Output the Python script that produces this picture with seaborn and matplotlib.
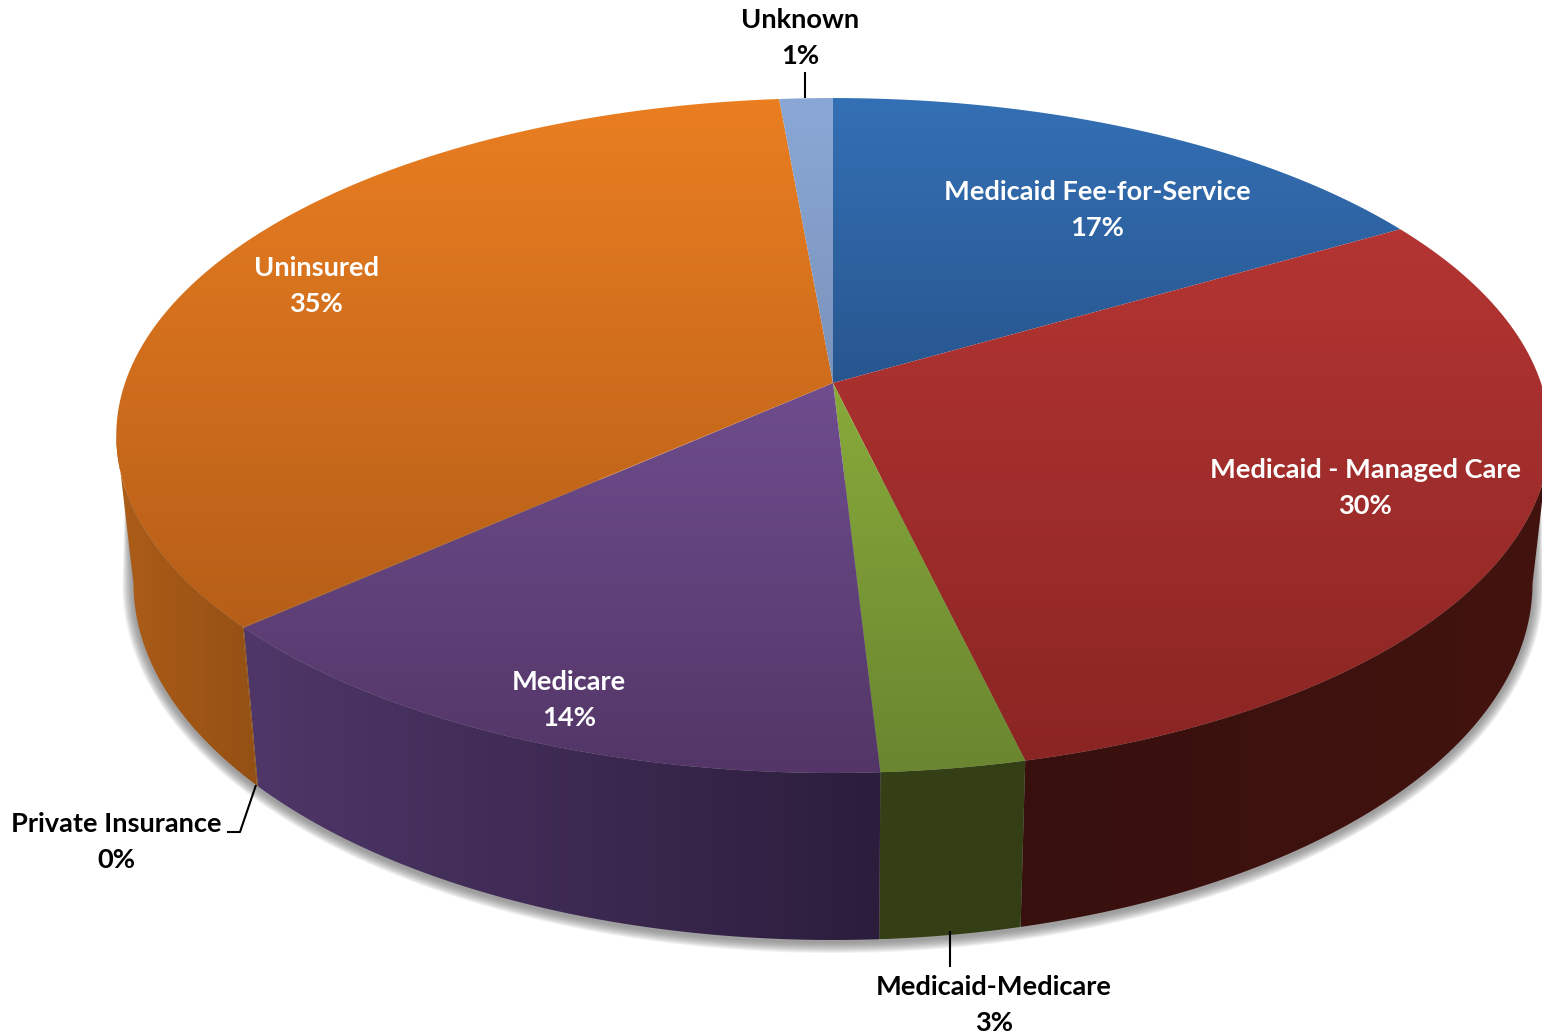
"""Perspective pie of coverage shares, drawn as shaded polygons with seaborn palettes."""

import matplotlib.pyplot as plt
import numpy as np
import seaborn as sns
from matplotlib.patches import Polygon

CATEGORIES = [
    "Medicaid Fee-for-Service",
    "Medicaid - Managed Care",
    "Medicaid-Medicare",
    "Medicare",
    "Private Insurance",
    "Uninsured",
    "Unknown",
]
# Shares; the labels show the rounded figures.
SHARES = [16.6, 29.7, 2.8, 14.3, 0.04, 35.16, 1.4]
SHARE_LABELS = ["17%", "30%", "3%", "14%", "0%", "35%", "1%"]

TOP_COLORS = [
    ("#3470b5", "#27568f"),
    ("#b43533", "#8a2523"),
    ("#88aa3a", "#6a8630"),
    ("#6f4d8e", "#533667"),
    ("#b65e18", "#b65e18"),
    ("#ea7e21", "#b65e18"),
    ("#8aa7d6", "#7a93ba"),
]
WALL_COLORS = [
    ("#1d3f69", "#1d3f69"),
    ("#37100e", "#43130f"),
    ("#354016", "#333e15"),
    ("#4f3769", "#2c1d3c"),
    ("#945014", "#945014"),
    ("#ad5d18", "#945014"),
    ("#5a6f8f", "#5a6f8f"),
]

# Label centres in pixels: (x, y of first line), white inside the pie.
LABEL_X = [1097, 1365, 994, 569, 116, 316, 800]
LABEL_Y = [192, 470, 987, 682, 824, 268, 20]
LABEL_COLORS = ["white", "white", "black", "white", "black", "white", "black"]
LINE_GAP = 36

LEADERS = [
    ([805, 805], [72, 98]),
    ([227, 240, 256], [832, 832, 785]),
    ([950, 950], [931, 967]),
]

K = 0.1556  # perspective strength
TOP_RIM = {"cx": 833, "cy": 383, "a": 708, "b": 329.3}
BOTTOM_RIM = {"cx": 833, "cy": 527.5, "a": 691, "b": 348.3}
WALL_RANGE = (99, 261)  # degrees clockwise from the back, silhouette to silhouette

sns.set_theme(style="white")
plt.rcParams["font.family"] = ["Lato", "DejaVu Sans"]


def rim_points(theta_deg, rim):
    """Project angles (clockwise from the far side) onto a rim in pixel space."""
    theta = np.radians(theta_deg)
    w = 1 + K * np.cos(theta)
    x = rim["cx"] + rim["a"] * np.sin(theta) / w
    y = rim["cy"] - rim["b"] * np.cos(theta) / w
    return np.column_stack([x, y])


def gradient_fill(ax, points, colors, vertical=True, zorder=2):
    """Fill a polygon with a two-colour gradient across its bounding box."""
    cmap = sns.blend_palette(colors, as_cmap=True)
    ramp = np.linspace(0, 1, 256)
    ramp = ramp[:, None] if vertical else ramp[None, :]
    x0, y0 = points.min(axis=0)
    x1, y1 = points.max(axis=0)
    image = ax.imshow(
        ramp,
        cmap=cmap,
        vmin=0,
        vmax=1,
        extent=(x0, x1, y1, y0),
        aspect="auto",
        interpolation="bilinear",
        zorder=zorder,
    )
    patch = Polygon(points, closed=True, transform=ax.transData, facecolor="none", edgecolor="none")
    ax.add_patch(patch)
    image.set_clip_path(patch)


def draw_shadow(ax):
    """Soft grey halo following the wall silhouette and the lower rim."""
    theta = np.linspace(WALL_RANGE[0], WALL_RANGE[1], 300)
    base = rim_points(theta, BOTTOM_RIM)
    centre = np.array([833, 583])
    half = np.array([700, 357])
    unit = (base - centre) / half
    top_right, top_left = rim_points(np.array(WALL_RANGE, dtype=float), TOP_RIM)
    for grow in np.linspace(11, 1, 11):
        ring = centre + unit * (half + grow) + np.array([0, 2])
        # start and end inside the wall so the halo fades in along its edge
        outline = np.vstack([top_right + [-9, 44], ring, top_left + [9, 44]])
        ax.fill(outline[:, 0], outline[:, 1], color="#6b6b6b", alpha=0.085, lw=0, zorder=1)


def main() -> None:
    fig = plt.figure(figsize=(15.42, 10.36), dpi=100)
    ax = fig.add_axes([0, 0, 1, 1])

    edges = np.concatenate([[0], np.cumsum(SHARES)]) / np.sum(SHARES) * 360
    draw_shadow(ax)

    for i in range(len(SHARES)):
        start = max(edges[i], WALL_RANGE[0])
        stop = min(edges[i + 1], WALL_RANGE[1])
        if stop <= start:
            continue
        theta = np.linspace(start, stop, 200)
        wall = np.vstack([rim_points(theta, TOP_RIM), rim_points(theta, BOTTOM_RIM)[::-1]])
        gradient_fill(ax, wall, WALL_COLORS[i], vertical=False, zorder=2)

    for i in range(len(SHARES)):
        theta = np.linspace(edges[i], edges[i + 1], 200)
        rim = rim_points(theta, TOP_RIM)
        wedge = np.vstack([[TOP_RIM["cx"], TOP_RIM["cy"]], rim])
        gradient_fill(ax, wedge, TOP_COLORS[i], vertical=True, zorder=3)

    for xs, ys in LEADERS:
        ax.plot(xs, ys, color="black", lw=1.5, zorder=4, solid_capstyle="butt")

    for name, pct, x, y, color in zip(CATEGORIES, SHARE_LABELS, LABEL_X, LABEL_Y, LABEL_COLORS):
        for text, ty in ((name, y), (pct, y + LINE_GAP)):
            ax.text(x, ty, text, color=color, fontsize=19.6, fontweight="bold",
                    ha="center", va="center", zorder=5)

    ax.set_xlim(0, 1542)
    ax.set_ylim(1036, 0)
    ax.axis("off")
    fig.savefig("out.png", dpi=100, facecolor="white")


if __name__ == "__main__":
    main()
